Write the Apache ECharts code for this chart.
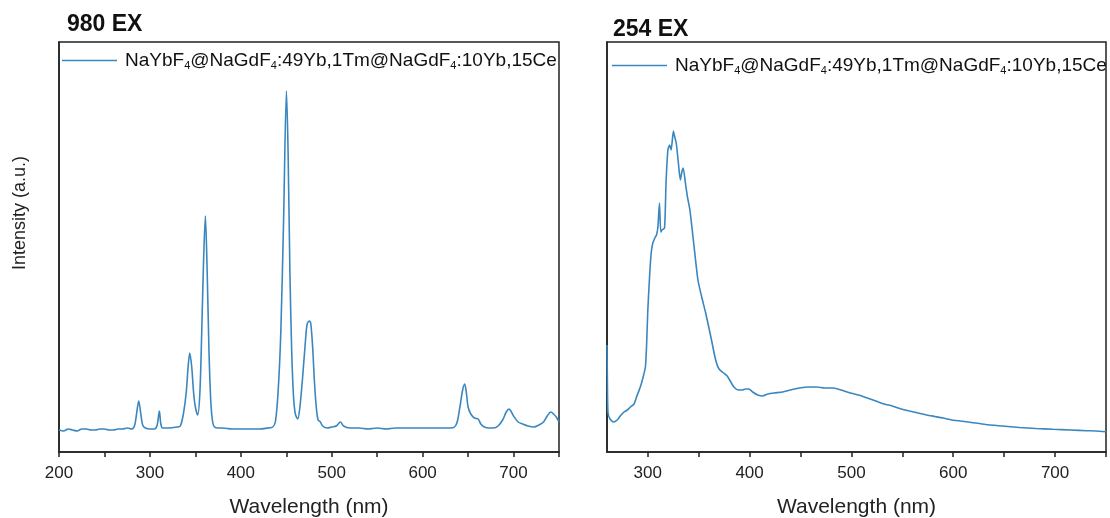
<!DOCTYPE html>
<html>
<head>
<meta charset="utf-8">
<script src="https://cdn.jsdelivr.net/npm/echarts@6/dist/echarts.min.js"></script>
<style>html,body{margin:0;padding:0;background:#fff}#c{width:1110px;height:518px}</style>
</head>
<body>
<div id="c"></div>
<script>
// ---- Data (arbitrary intensity units) ----
const seriesName = 'NaYbF4@NaGdF4:49Yb,1Tm@NaGdF4:10Yb,15Ce';
const panelTitles = ['980 EX', '254 EX'];

const leftWavelength = [200,205,210,215,220,225,230,235,240,245,250,255,260,265,270,275,280,283,285,287.7,290,292,295,300,305,308,310.4,312,314,320,330,333.5,337,340,342,343.8,346,348,350,352.6,355,357,359,361,363,365,367,369,371,375,380,390,400,410,420,430,435,438,441,444,447,450.2,452,454,456,458,460,462.6,465,468,471,473,475.5,477,479,481,483,485,487.5,490,495,500,505,509.5,513,520,530,540,550,560,570,580,590,600,610,620,630,635,638,641,644,646.3,648,650,653,657,661,664,668,673,678,683,688,692,695,697,700,705,710,716,722,728,733,737,741,744,747,750];
const leftIntensity = [22,21,23,22,21,23,23,22,22,23,23,22,22,23,23,24,23,26,36,51,38,27,24,23,23,27,41,28,24,24,25,26,39,60,85,99,85,60,45,37,60,120,190,236,180,100,50,30,25,24,24,23,23,23,23,24,25,30,60,120,230,361,300,180,100,55,38,33,45,75,110,128,131,128,105,70,45,32,30,26,24,25,26,30,26,24,24,23,24,23,24,24,24,24,24,24,24,25,30,45,62,68,60,45,38,34,33,28,25,24,24,26,32,40,43,41,36,30,28,26,25,27,30,36,40,38,35,30];

const rightWavelength = [260,260.5,261,263,266.5,270,273,276.6,280,283,286.5,289,292.7,295,297.7,299,300,302,303.5,305,307,308.6,310,311.5,312.8,314,316.5,318,319.8,321.5,323,325.2,326.5,328,330,332,333.5,334.8,337,339,341.4,345,349.3,353,356.9,362,366.7,370,374.6,378,381,384.6,389,392.8,396,399.4,403,408,412.7,418,424,432.6,440,449,458,465.8,474,482.4,490,499,507,515.6,524,532.2,540,549,557,565.5,574,582,590,598.6,615,631.8,648,665,681,698,715,731.3,740,750];
const rightIntensity = [107,60,39,33,30,32,36,40,42,45,48,55,65,73,85,110,140,179,200,209,214,217,225,249,220,222,224,270,302,307,302,321,315,309,290,272,280,284,269,255,242,210,172,155,139,115,92,83,79,76,71,65,62,62,63,63,60,57,56,58,59,60,62,64,65,65,64,64,62,59,57,54,51,48,46,43,41,39,37,35.5,34,32,30,27.5,26,24.5,23.5,22.7,22,21.3,21,20.3];

const xTicksLeft = [200,250,300,350,400,450,500,550,600,650,700,750];
const xLabelsLeft = [200,300,400,500,600,700];
const xTicksRight = [300,350,400,450,500,550,600,650,700,750];
const xLabelsRight = [300,400,500,600,700];

// ---- Chart ----
const FONT = 'Liberation Sans, Arial, sans-serif';
const COLOR = '#3a87bf';
const zip = (a, b) => a.map((v, i) => [v, b[i]]);

const legendFormatter = () => 'NaYbF{s|4}@NaGdF{s|4}:49Yb,1Tm@NaGdF{s|4}:10Yb,15Ce';
const legendText = {
  fontFamily: FONT, fontSize: 19, color: '#111', padding: [0, 0, 0, 3],
  rich: { s: { fontFamily: FONT, fontSize: 11, color: '#111', padding: [10, 0, 0, 0] } }
};

function xAxis(idx, min, ticks, labels) {
  return {
    type: 'value', gridIndex: idx, min: min, max: 750,
    name: 'Wavelength (nm)', nameLocation: 'middle', nameGap: 45,
    nameTextStyle: { fontFamily: FONT, fontSize: 21, color: '#222' },
    axisLine: { show: true, lineStyle: { color: '#222', width: 1.5 } },
    axisTick: { show: true, length: 5, lineStyle: { color: '#222', width: 1.5 }, customValues: ticks },
    axisLabel: { fontFamily: FONT, fontSize: 17, color: '#222', margin: 13, customValues: labels },
    splitLine: { show: false }
  };
}
function yAxis(idx, withName) {
  return {
    type: 'value', gridIndex: idx, min: 0, max: 410,
    name: withName ? 'Intensity (a.u.)' : '', nameLocation: 'middle', nameGap: 30,
    nameTextStyle: { fontFamily: FONT, fontSize: 18, color: '#222', padding: [0, 0, 0, 68] },
    axisLine: { show: true, lineStyle: { color: '#222', width: 1.5 } },
    axisTick: { show: false }, axisLabel: { show: false }, splitLine: { show: false }
  };
}

const legendCommon = {
  icon: 'rect', itemWidth: 55, itemHeight: 1.6, itemGap: 0, padding: 0,
  itemStyle: { color: COLOR, borderWidth: 0 },
  formatter: legendFormatter, textStyle: legendText,
  selectedMode: false
};

const gridCommon = { top: 42, height: 410, show: true, borderColor: '#222', borderWidth: 1.5, backgroundColor: 'transparent', containLabel: false, outerBoundsMode: 'none' };

const chart = echarts.init(document.getElementById('c'), null, { renderer: 'canvas' });
chart.setOption({
  animation: false,
  backgroundColor: '#fff',
  title: [
    { text: panelTitles[0], left: 62, top: 8, textStyle: { fontFamily: FONT, fontSize: 23, fontWeight: 'bold', color: '#111' } },
    { text: panelTitles[1], left: 608, top: 13, textStyle: { fontFamily: FONT, fontSize: 23, fontWeight: 'bold', color: '#111' } }
  ],
  legend: [
    Object.assign({ left: 62, top: 51 }, legendCommon),
    Object.assign({ left: 612, top: 56 }, legendCommon)
  ],
  grid: [
    Object.assign({ left: 59, width: 500 }, gridCommon),
    Object.assign({ left: 607, width: 499 }, gridCommon)
  ],
  xAxis: [xAxis(0, 200, xTicksLeft, xLabelsLeft), xAxis(1, 260, xTicksRight, xLabelsRight)],
  yAxis: [yAxis(0, true), yAxis(1, false)],
  series: [
    { name: seriesName, type: 'line', xAxisIndex: 0, yAxisIndex: 0, data: zip(leftWavelength, leftIntensity), showSymbol: false, symbol: 'none', smooth: 0.3, lineStyle: { color: COLOR, width: 1.6 }, itemStyle: { color: COLOR } },
    { name: seriesName, type: 'line', xAxisIndex: 1, yAxisIndex: 1, data: zip(rightWavelength, rightIntensity), showSymbol: false, symbol: 'none', smooth: 0.2, lineStyle: { color: COLOR, width: 1.6 }, itemStyle: { color: COLOR } }
  ]
});
</script>
</body>
</html>
